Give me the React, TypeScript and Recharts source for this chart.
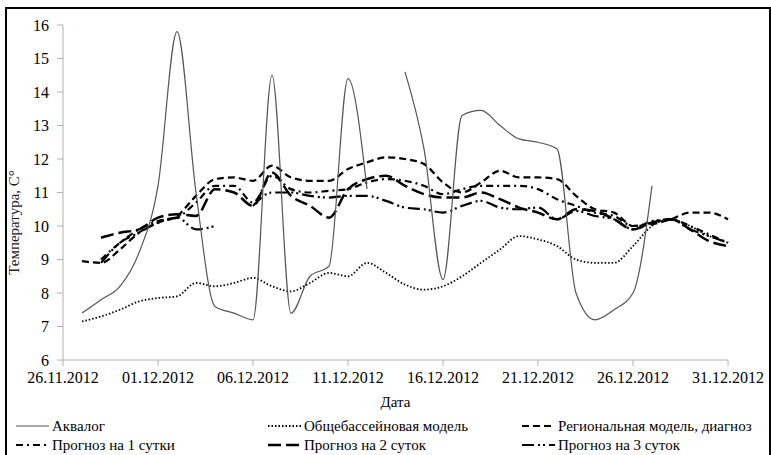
import React from 'react';
import { LineChart, Line, XAxis, YAxis } from 'recharts';

const dateLabels = ['26.11.2012', '01.12.2012', '06.12.2012', '11.12.2012', '16.12.2012', '21.12.2012', '26.12.2012', '31.12.2012'];
const xTicks = [0, 5, 10, 15, 20, 25, 30, 35];
const yTicks = [6, 7, 8, 9, 10, 11, 12, 13, 14, 15, 16];

// day index 0 = 26.11.2012 ... 35 = 31.12.2012
const akvalog = [null, 7.4, 7.8, 8.2, 9.2, 11.2, 15.8, 11.0, 7.6, 7.4, 7.2, 14.5, 7.4, 8.5, 8.8, 14.4, 11.1, null, 14.6, 12.3, 8.4, 13.3, 13.45, 13.0, 12.6, 12.5, 12.3, 8.0, 7.2, 7.5, 8.0, 11.2, null, null, null, null];
const basin = [null, 7.15, 7.3, 7.5, 7.75, 7.85, 7.9, 8.3, 8.2, 8.3, 8.45, 8.2, 8.05, 8.3, 8.6, 8.5, 8.9, 8.6, 8.25, 8.1, 8.2, 8.5, 8.9, 9.3, 9.7, 9.6, 9.4, 9.0, 8.9, 8.9, 9.4, 10.0, 10.2, 10.0, 9.7, 9.5];
const regional = [null, 8.95, 8.9, 9.3, 9.8, 10.1, 10.3, 10.9, 11.4, 11.45, 11.35, 11.8, 11.45, 11.35, 11.35, 11.7, 11.9, 12.05, 12.0, 11.85, 11.3, 11.0, 11.3, 11.65, 11.45, 11.45, 11.4, 10.9, 10.5, 10.4, 10.0, 10.05, 10.2, 10.4, 10.4, 10.2];
const forecast1 = [null, null, 9.0, 9.5, 9.9, 10.15, 10.25, 10.7, 11.2, 11.2, 10.7, 11.5, 11.1, 11.0, 11.05, 11.1, 11.3, 11.4, 11.35, 11.2, 10.95, 11.1, 11.2, 11.2, 11.2, 11.1, 10.8, 10.6, 10.4, 10.3, 10.0, 10.1, 10.2, 10.0, 9.75, 9.5];
const forecast2 = [null, null, 9.65, 9.8, 9.9, 10.25, 10.35, 10.3, 11.1, 11.0, 10.6, 11.6, 10.9, 10.6, 10.25, 11.1, 11.4, 11.5, 11.2, 10.95, 10.85, 10.85, 11.0, 10.8, 10.55, 10.4, 10.2, 10.5, 10.45, 10.2, 9.9, 10.1, 10.2, 9.9, 9.55, 9.4];
const forecast3 = [null, null, 8.9, 9.5, 9.8, 10.1, 10.25, 9.9, 10.0, null, 10.6, 11.0, 11.0, 10.9, 10.85, 10.9, 10.9, 10.75, 10.55, 10.5, 10.4, 10.6, 10.75, 10.55, 10.5, 10.55, 10.2, 10.45, 10.3, 10.2, 9.9, 10.15, 10.2, 9.9, 9.7, 9.5];

const data = basin.map((_, i) => ({
  day: i,
  akvalog: akvalog[i],
  basin: basin[i],
  regional: regional[i],
  forecast1: forecast1[i],
  forecast2: forecast2[i],
  forecast3: forecast3[i],
}));

const FONT = "Liberation Serif, Tinos, Times New Roman, Times, DejaVu Serif, Noto Serif, serif";

const legendItems = [
  { name: 'Аквалог', col: 0, row: 0, stroke: '#555', width: 1.2, dash: undefined },
  { name: 'Общебассейновая модель', col: 1, row: 0, stroke: '#000', width: 1.8, dash: '1.5 2' },
  { name: 'Региональная модель, диагноз', col: 2, row: 0, stroke: '#000', width: 2.2, dash: '7 4' },
  { name: 'Прогноз на 1 сутки', col: 0, row: 1, stroke: '#000', width: 2.2, dash: '7 4 2 4' },
  { name: 'Прогноз на 2 суток', col: 1, row: 1, stroke: '#000', width: 2.5, dash: '13 5' },
  { name: 'Прогноз на 3 суток', col: 2, row: 1, stroke: '#000', width: 2.2, dash: '12 4 2 3 2 4' },
];
const colX = [16, 268, 522];
const rowY = [426, 445];

export default function App() {
  return (
    <div style={{ position: 'absolute', left: 0, top: 0, width: 771, height: 455, background: '#fff', overflow: 'hidden', fontFamily: FONT }}>
      <div style={{ position: 'absolute', left: 5, top: 7, width: 766, height: 470, border: '2.5px solid #000', boxSizing: 'border-box' }} />
      <div style={{ position: 'absolute', left: 0, top: 0 }}>
        <LineChart width={771} height={412} data={data} margin={{ top: 25, right: 43, left: 0, bottom: 0 }} style={{ fontFamily: FONT }}>
          <XAxis
            dataKey="day"
            type="number"
            domain={[0, 35]}
            ticks={xTicks}
            tickFormatter={(v: number) => dateLabels[xTicks.indexOf(v)]}
            height={52}
            stroke="#b0b0b0"
            tickSize={6}
            tickMargin={6}
            tick={{ fill: '#000', fontSize: 16, fontFamily: FONT }}
            interval={0}
            label={{ value: 'Дата', position: 'insideBottom', offset: 5, fill: '#000', fontSize: 15, fontFamily: FONT }}
          />
          <YAxis
            type="number"
            domain={[6, 16]}
            ticks={yTicks}
            width={63}
            stroke="#b0b0b0"
            tickSize={6}
            tickMargin={8}
            interval={0}
            tick={{ fill: '#000', fontSize: 16, fontFamily: FONT }}
            label={{ value: 'Температура, С°', angle: -90, position: 'insideLeft', offset: 0, dx: 14, dy: 30, fill: '#222', fontSize: 15, fontFamily: FONT, style: { textAnchor: 'middle' } }}
          />
          <Line dataKey="basin" type="monotone" stroke="#000" strokeWidth={1.8} strokeDasharray="1.5 2" dot={false} isAnimationActive={false} connectNulls={false} />
          <Line dataKey="regional" type="monotone" stroke="#000" strokeWidth={2.2} strokeDasharray="7 4" dot={false} isAnimationActive={false} connectNulls={false} />
          <Line dataKey="forecast1" type="monotone" stroke="#000" strokeWidth={2.2} strokeDasharray="7 4 2 4" dot={false} isAnimationActive={false} connectNulls={false} />
          <Line dataKey="forecast2" type="monotone" stroke="#000" strokeWidth={2.5} strokeDasharray="13 5" dot={false} isAnimationActive={false} connectNulls={false} />
          <Line dataKey="forecast3" type="monotone" stroke="#000" strokeWidth={2.2} strokeDasharray="12 4 2 3 2 4" dot={false} isAnimationActive={false} connectNulls={false} />
          <Line dataKey="akvalog" type="monotone" stroke="#555" strokeWidth={1.2} dot={false} isAnimationActive={false} connectNulls={false} />
        </LineChart>
      </div>
      <svg width={771} height={455} style={{ position: 'absolute', left: 0, top: 0, pointerEvents: 'none', fontFamily: FONT }}>
        {legendItems.map((it) => (
          <g key={it.name}>
            <line x1={colX[it.col]} x2={colX[it.col] + 33} y1={rowY[it.row]} y2={rowY[it.row]} stroke={it.stroke} strokeWidth={it.width} strokeDasharray={it.dash} />
            <text x={colX[it.col] + 36} y={rowY[it.row]} dy="0.35em" fontSize={15} style={{ fontFamily: FONT }} fill="#000">{it.name}</text>
          </g>
        ))}
      </svg>
    </div>
  );
}
